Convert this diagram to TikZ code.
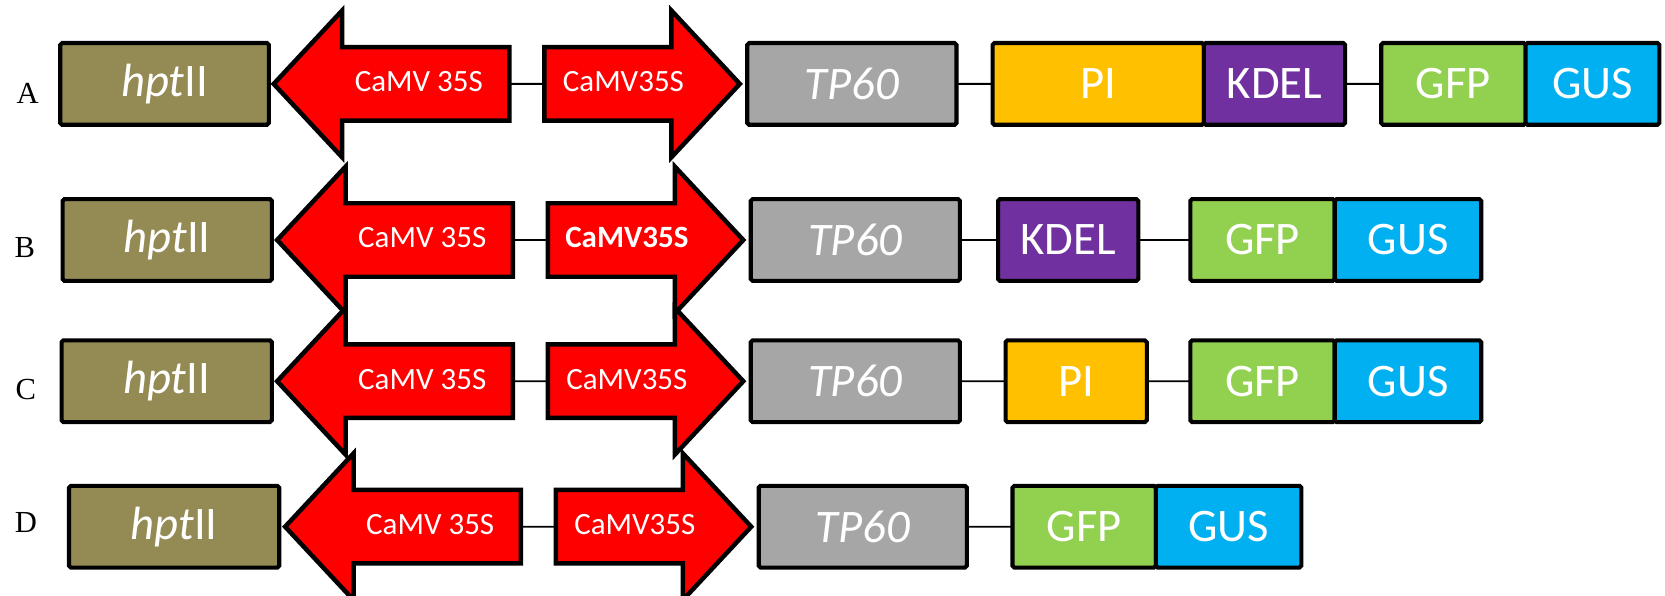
\documentclass[tikz,border=0pt]{standalone}
\usepackage{fontspec}
\setmainfont{Liberation Serif}
\newfontfamily\genefont{Carlito}
\usetikzlibrary{shapes.arrows,positioning}

\definecolor{hptbrown}{HTML}{948A54}
\definecolor{tpgray}{HTML}{A6A6A6}
\definecolor{piorange}{HTML}{FFC000}
\definecolor{kdelpurple}{HTML}{7030A0}
\definecolor{gfpgreen}{HTML}{92D050}
\definecolor{gusblue}{HTML}{00B0F0}

\begin{document}
\begin{tikzpicture}[x=0.1mm,y=-0.1mm,
  gene/.style={draw,rectangle,line width=1.1pt,rounded corners=0.5pt,
    minimum height=7.7mm,inner sep=0pt,outer sep=0pt,text=white,
    font=\genefont\fontsize{12.5}{15}\selectfont},
  prom/.style={single arrow,draw,fill=red,line width=1.2pt,outer sep=0pt,
    inner xsep=0pt,inner ysep=1.9mm,text height=2.1mm,text depth=0.6mm,
    minimum width=13.4mm,single arrow head extend=3.45mm,single arrow tip angle=94,
    text=white,font=\genefont\fontsize{8.3}{10}\selectfont},
  promL/.style={prom,shape border rotate=180,minimum height=22.2mm},
  promR/.style={prom,minimum height=18.4mm},
  rowname/.style={inner sep=0pt,font=\fontsize{8.2}{10}\selectfont},
  link/.style={line width=0.5pt}]

        \useasboundingbox (0,0) rectangle (1568,561);

        % row A
        \node[rowname] (lA) at (26,87.6) {A};
        \node[gene,fill=hptbrown,minimum width=19.65mm] (hptA) at (155,79) {\textit{hpt}II};
        \node[promL,anchor=tip] (pLA) at ([xshift=0.45mm]hptA.east) {\hspace*{1.9mm}CaMV 35S};
        \node[promR,right=3.3mm of pLA.tail,anchor=tail] (pRA) {CaMV35S\hspace*{0.3mm}};
        \node[gene,fill=tpgray,minimum width=19.7mm,right=0.7mm of pRA.tip,anchor=west] (tpA) {\textit{TP60}};
        \node[gene,fill=piorange,minimum width=19.9mm,right=3.4mm of tpA] (piA) {PI};
        \node[gene,fill=kdelpurple,minimum width=13.3mm,right=0mm of piA] (kdA) {KDEL};
        \node[gene,fill=gfpgreen,minimum width=13.6mm,right=3.4mm of kdA] (gfpA) {GFP};
        \node[gene,fill=gusblue,minimum width=12.6mm,right=0mm of gfpA] (gusA) {GUS};
        \draw[link] (pLA) -- (pRA) (tpA) -- (piA) (kdA) -- (gfpA);

        % row B
        \node[rowname] (lB) at (23.5,233.5) {B};
        \node[gene,fill=hptbrown,minimum width=19.7mm] (hptB) at (157.5,226) {\textit{hpt}II};
        \node[promL,anchor=tip] (pLB) at ([xshift=0.5mm]hptB.east) {\hspace*{1.9mm}CaMV 35S};
        \node[promR,right=3.3mm of pLB.tail,anchor=tail] (pRB) {\bfseries CaMV35S\hspace*{0.3mm}};
        \node[gene,fill=tpgray,minimum width=19.7mm,right=0.7mm of pRB.tip,anchor=west] (tpB) {\textit{TP60}};
        \node[gene,fill=kdelpurple,minimum width=13.2mm,right=3.6mm of tpB] (kdB) {KDEL};
        \node[gene,fill=gfpgreen,minimum width=13.6mm,right=4.9mm of kdB] (gfpB) {GFP};
        \node[gene,fill=gusblue,minimum width=13.8mm,right=0mm of gfpB] (gusB) {GUS};
        \draw[link] (pLB) -- (pRB) (tpB) -- (kdB) (kdB) -- (gfpB);

        % row C
        \node[rowname] (lC) at (24.3,367) {C};
        \node[gene,fill=hptbrown,minimum width=19.8mm] (hptC) at (157,359) {\textit{hpt}II};
        \node[promL,anchor=tip] (pLC) at ([xshift=0.5mm]hptC.east) {\hspace*{1.9mm}CaMV 35S};
        \node[promR,right=3.3mm of pLC.tail,anchor=tail] (pRC) {CaMV35S\hspace*{0.3mm}};
        \node[gene,fill=tpgray,minimum width=19.7mm,right=0.7mm of pRC.tip,anchor=west] (tpC) {\textit{TP60}};
        \node[gene,fill=piorange,minimum width=13.3mm,right=4.3mm of tpC] (piC) {PI};
        \node[gene,fill=gfpgreen,minimum width=13.6mm,right=4.1mm of piC] (gfpC) {GFP};
        \node[gene,fill=gusblue,minimum width=13.8mm,right=0mm of gfpC] (gusC) {GUS};
        \draw[link] (pLC) -- (pRC) (tpC) -- (piC) (piC) -- (gfpC);

        % row D
        \node[rowname] (lD) at (24.3,492.5) {D};
        \node[gene,fill=hptbrown,minimum width=19.8mm] (hptD) at (164,496) {\textit{hpt}II};
        \node[promL,anchor=tip] (pLD) at ([xshift=0.55mm]hptD.east) {\hspace*{1.9mm}CaMV 35S};
        \node[promR,right=3.3mm of pLD.tail,anchor=tail] (pRD) {CaMV35S\hspace*{0.3mm}};
        \node[gene,fill=tpgray,minimum width=19.6mm,right=0.7mm of pRD.tip,anchor=west] (tpD) {\textit{TP60}};
        \node[gene,fill=gfpgreen,minimum width=13.5mm,right=4.3mm of tpD] (gfpD) {GFP};
        \node[gene,fill=gusblue,minimum width=13.7mm,right=0mm of gfpD] (gusD) {GUS};
        \draw[link] (pLD) -- (pRD) (tpD) -- (gfpD);
      \end{tikzpicture}
\end{document}
